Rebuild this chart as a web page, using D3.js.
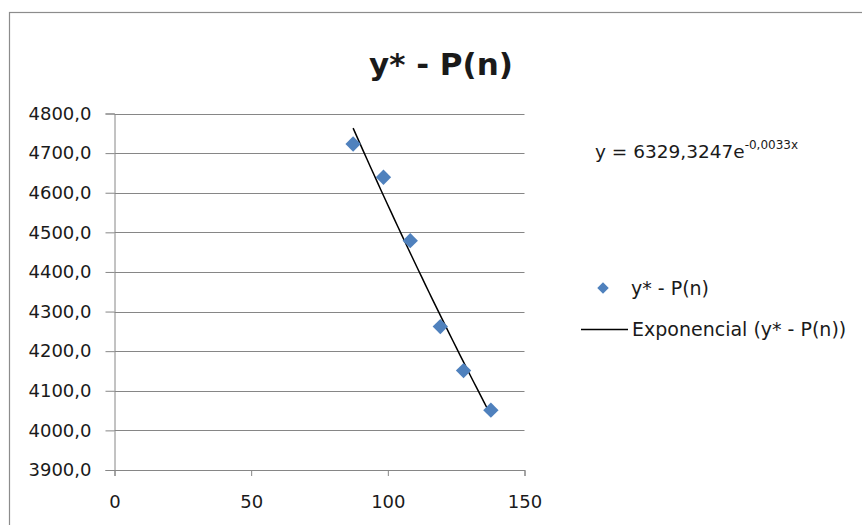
<!DOCTYPE html>
<html>
<head>
<meta charset="utf-8">
<script src="https://cdn.jsdelivr.net/npm/d3@7"></script>
<style>
  html, body { margin: 0; padding: 0; background: #fff; }
  svg { display: block; }
  text { font-family: "DejaVu Sans", sans-serif; fill: #1a1a1a; }
</style>
</head>
<body>
<svg id="chart" width="862" height="525"></svg>
<script>
// ---- data ----
const title = "y* - P(n)";
const seriesName = "y* - P(n)";
const trendName = "Exponencial (y* - P(n))";
const xValues = [87.3, 98.4, 108.2, 119.2, 127.7, 137.7];
const yValues = [4723, 4639, 4479, 4262, 4151, 4051];
const xTicks = [0, 50, 100, 150];
const yTicks = [3900, 4000, 4100, 4200, 4300, 4400, 4500, 4600, 4700, 4800];
const equationMain = "y = 6329,3247e";
const equationExp = "-0,0033x";

// ---- layout ----
const svg = d3.select("#chart");
const W = 862, H = 525;
const plot = { left: 114.5, right: 524.5, top: 113.5, bottom: 470 };
const grey = "#868686";
const blue = "#4F81BD";
const FONT = '"DejaVu Sans", sans-serif';

svg.append("rect").attr("width", W).attr("height", H).attr("fill", "#fff");
svg.append("rect")
  .attr("x", 9.5).attr("y", 12.5).attr("width", 900).attr("height", 600)
  .attr("fill", "none").attr("stroke", "#8c8c8c").attr("stroke-width", 1.2);

const x = d3.scaleLinear().domain([0, 150]).range([plot.left, plot.right]);
const y = d3.scaleLinear().domain([3900, 4800]).range([plot.bottom, plot.top]);

// gridlines
svg.append("g").selectAll("line").data(yTicks.filter(d => d !== 3900)).join("line")
  .attr("x1", plot.left).attr("x2", plot.right)
  .attr("y1", d => Math.round(y(d)) + 0.5).attr("y2", d => Math.round(y(d)) + 0.5)
  .attr("stroke", grey).attr("stroke-width", 1);

const fmt = d => d3.format(".1f")(d).replace(".", ",");

// y axis
const yAxis = svg.append("g").attr("transform", `translate(${plot.left},0)`)
  .call(d3.axisLeft(y).tickValues(yTicks).tickFormat(fmt).tickSize(9).tickPadding(14));
// x axis
const xAxis = svg.append("g").attr("transform", `translate(0,${plot.bottom})`)
  .call(d3.axisBottom(x).tickValues(xTicks).tickFormat(d3.format("d")).tickSize(6).tickPadding(19));

[yAxis, xAxis].forEach(g => {
  g.select(".domain").attr("stroke", grey).attr("stroke-width", 1);
  g.selectAll(".tick line").attr("stroke", grey).attr("stroke-width", 1);
  g.selectAll(".tick text").attr("font-size", 18).attr("fill", "#1a1a1a")
    .style("font-family", FONT);
});

// exponential trendline (least squares on ln y, as the spreadsheet does)
const lnY = yValues.map(Math.log);
const mx = d3.mean(xValues), my = d3.mean(lnY);
const sxy = d3.sum(xValues, (d, i) => (d - mx) * (lnY[i] - my));
const sxx = d3.sum(xValues, d => (d - mx) * (d - mx));
const tb = sxy / sxx, ta = Math.exp(my - tb * mx);
const x0 = d3.min(xValues), x1 = d3.max(xValues);
const trendX = d3.range(0, 41).map(i => x0 + (x1 - x0) * i / 40);
const line = d3.line().x(d => x(d)).y(d => y(ta * Math.exp(tb * d)));
svg.append("path").datum(trendX).attr("d", line)
  .attr("fill", "none").attr("stroke", "#000").attr("stroke-width", 1.5);

// markers
const diamond = d3.symbol().type(d3.symbolDiamond2).size(150);
svg.append("g").selectAll("path").data(xValues.map((d, i) => [d, yValues[i]])).join("path")
  .attr("transform", d => `translate(${x(d[0])},${y(d[1])})`)
  .attr("d", diamond).attr("fill", blue);

// title
svg.append("text").attr("x", 441).attr("y", 75).attr("text-anchor", "middle")
  .attr("font-size", 31).attr("font-weight", "bold").attr("fill", "#000")
  .text(title);

// equation
const eq = svg.append("text").attr("x", 595).attr("y", 158).attr("font-size", 18.5);
eq.append("tspan").text(equationMain);
eq.append("tspan").attr("dy", -9).attr("font-size", 12).text(equationExp);

// legend
svg.append("path").attr("transform", "translate(603,288)")
  .attr("d", d3.symbol().type(d3.symbolDiamond2).size(85)).attr("fill", blue);
svg.append("text").attr("x", 631).attr("y", 295).attr("font-size", 19).text(seriesName);
svg.append("line").attr("x1", 581).attr("x2", 628).attr("y1", 329.5).attr("y2", 329.5)
  .attr("stroke", "#000").attr("stroke-width", 1.3);
svg.append("text").attr("x", 632).attr("y", 336).attr("font-size", 19).text(trendName);
</script>
</body>
</html>
